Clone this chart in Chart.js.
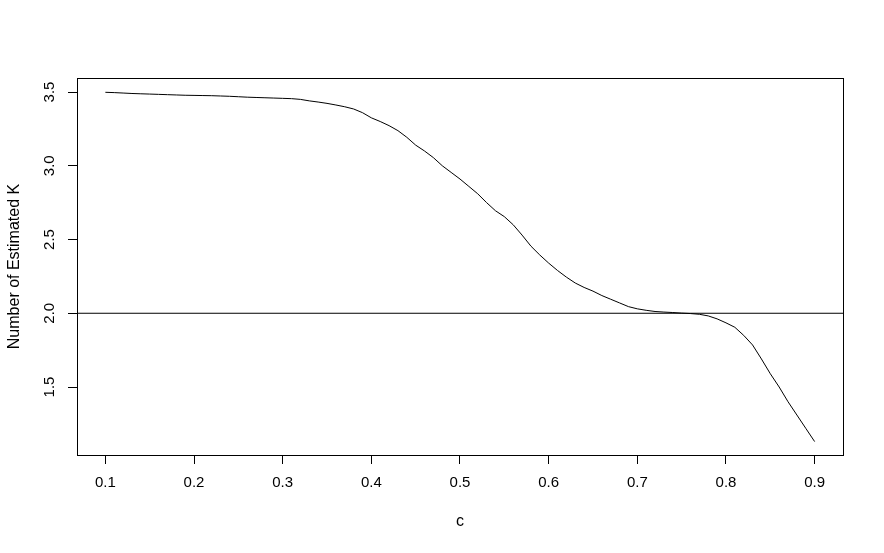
<!DOCTYPE html>
<html>
<head>
<meta charset="utf-8">
<script src="https://cdn.jsdelivr.net/npm/chart.js@4.4.1/dist/chart.umd.min.js"></script>
<style>
  html, body { margin: 0; padding: 0; background: #fff; }
  #wrap { position: relative; width: 884px; height: 553px; }
</style>
</head>
<body>
<div id="wrap"><canvas id="myChart"></canvas></div>
<script>
// values of c (x) and the estimated number of K (y)
const cValues = [0.10, 0.11, 0.12, 0.13, 0.14, 0.15, 0.16, 0.17, 0.18, 0.19,
    0.20, 0.21, 0.22, 0.23, 0.24, 0.25, 0.26, 0.27, 0.28, 0.29,
    0.30, 0.31, 0.32, 0.33, 0.34, 0.35, 0.36, 0.37, 0.38, 0.39,
    0.40, 0.41, 0.42, 0.43, 0.44, 0.45, 0.46, 0.47, 0.48, 0.49,
    0.50, 0.51, 0.52, 0.53, 0.54, 0.55, 0.56, 0.57, 0.58, 0.59,
    0.60, 0.61, 0.62, 0.63, 0.64, 0.65, 0.66, 0.67, 0.68, 0.69,
    0.70, 0.71, 0.72, 0.73, 0.74, 0.75, 0.76, 0.77, 0.78, 0.79,
    0.80, 0.81, 0.82, 0.83, 0.84, 0.85, 0.86, 0.87, 0.88, 0.89, 0.90];
const estK = [3.498, 3.496, 3.493, 3.490, 3.488, 3.486, 3.484, 3.482, 3.480, 3.478,
    3.477, 3.476, 3.475, 3.473, 3.471, 3.468, 3.465, 3.463, 3.461, 3.459,
    3.457, 3.455, 3.450, 3.440, 3.432, 3.423, 3.412, 3.400, 3.385, 3.360,
    3.325, 3.300, 3.272, 3.238, 3.193, 3.140, 3.100, 3.055, 3.000, 2.955,
    2.910, 2.860, 2.810, 2.750, 2.695, 2.655, 2.600, 2.530, 2.455, 2.395,
    2.340, 2.290, 2.245, 2.205, 2.175, 2.150, 2.120, 2.095, 2.070, 2.045,
    2.030, 2.020, 2.012, 2.008, 2.005, 2.001, 1.998, 1.993, 1.982, 1.962,
    1.935, 1.905, 1.850, 1.785, 1.690, 1.590, 1.500, 1.400, 1.310, 1.220, 1.130];
const refLevel = 2.0;
const xTicks = [0.1, 0.2, 0.3, 0.4, 0.5, 0.6, 0.7, 0.8, 0.9];
const yTicks = [1.5, 2.0, 2.5, 3.0, 3.5];
const xRange = [0.068, 0.932];
const yRange = [1.039, 3.595];

const FONT = "'Liberation Sans', Arial, sans-serif";

// box round the plot region, like R's box()
const boxPlugin = {
    id: 'box',
    afterDatasetsDraw(chart) {
        const a = chart.chartArea;
        const ctx = chart.ctx;
        ctx.save();
        ctx.strokeStyle = '#000';
        ctx.lineWidth = 1;
        ctx.strokeRect(Math.round(a.left) + 0.5, Math.round(a.top) + 0.5,
            Math.round(a.right - a.left), Math.round(a.bottom - a.top));
        ctx.restore();
    }
};

const ctx = document.getElementById('myChart');
new Chart(ctx, {
    type: 'line',
    data: {
        datasets: [{
            data: cValues.map((c, i) => ({ x: c, y: estK[i] })),
            borderColor: '#000',
            borderWidth: 1,
            pointRadius: 0,
            tension: 0,
            fill: false
        }, {
            data: [{ x: xRange[0], y: refLevel }, { x: xRange[1], y: refLevel }],
            borderColor: '#000',
            borderWidth: 1,
            pointRadius: 0,
            fill: false
        }]
    },
    options: {
        responsive: true,
        maintainAspectRatio: false,
        animation: false,
        events: [],
        layout: { padding: { top: 78, right: 41, left: 0, bottom: 0 } },
        plugins: {
            legend: { display: false },
            tooltip: { enabled: false }
        },
        scales: {
            x: {
                type: 'linear',
                min: xRange[0],
                max: xRange[1],
                afterBuildTicks: s => { s.ticks = xTicks.map(v => ({ value: v })); },
                afterFit: s => { s.height = 98; },
                grid: { drawOnChartArea: false, drawTicks: true, tickLength: 9, color: '#000' },
                border: { display: false },
                ticks: {
                    color: '#000',
                    padding: 10,
                    maxRotation: 0,
                    font: { family: FONT, size: 15 },
                    callback: v => v.toFixed(1)
                },
                title: {
                    display: true,
                    text: 'c',
                    color: '#000',
                    font: { family: FONT, size: 16 },
                    padding: { top: 0, bottom: 22 }
                }
            },
            y: {
                type: 'linear',
                min: yRange[0],
                max: yRange[1],
                afterBuildTicks: s => { s.ticks = yTicks.map(v => ({ value: v })); },
                afterFit: s => { s.width = 77; },
                grid: { drawOnChartArea: false, drawTicks: true, tickLength: 9, color: '#000' },
                border: { display: false },
                ticks: {
                    color: '#000',
                    padding: 8,
                    minRotation: 90,
                    maxRotation: 90,
                    crossAlign: 'center',
                    font: { family: FONT, size: 15 },
                    callback: v => v.toFixed(1)
                },
                title: {
                    display: true,
                    text: 'Number of Estimated K',
                    color: '#000',
                    font: { family: FONT, size: 16 },
                    padding: { top: 5, bottom: 0 }
                }
            }
        }
    },
    plugins: [boxPlugin]
});
</script>
</body>
</html>
